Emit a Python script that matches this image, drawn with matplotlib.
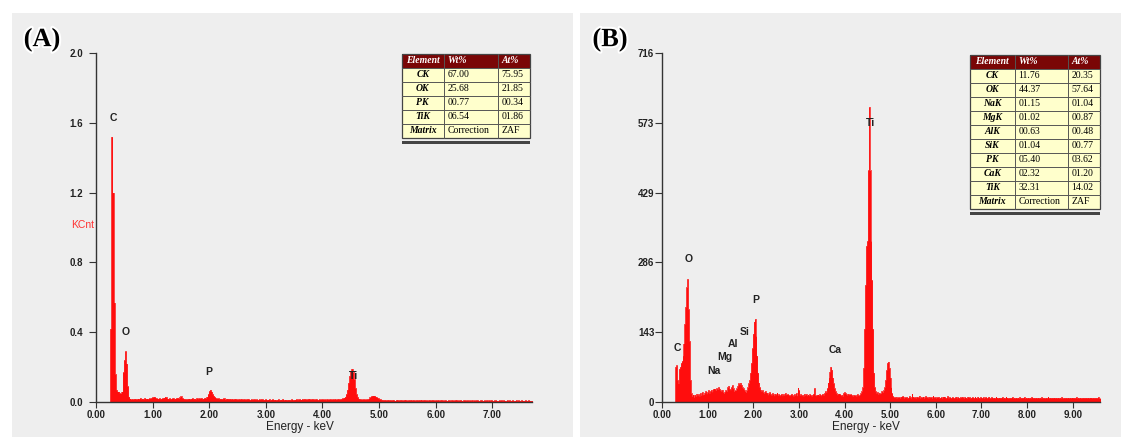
import numpy as np
import matplotlib
matplotlib.use("Agg")
import matplotlib.pyplot as plt
from matplotlib.patches import Rectangle
import matplotlib.patheffects as pe

# ---- spectrum data (one value per 0.02 keV channel, rows of 10 channels) ----
CHANNEL_KEV = 0.02

kcnt_a = [
    [0, 0, 0, 0, 0, 0, 0, 0, 0, 0],
    [0, 0, 0, 0.42, 1.52, 1.20, 0.57, 0.16, 0.07, 0.06],
    [0.06, 0.05, 0.05, 0.06, 0.17, 0.24, 0.29, 0.22, 0.09, 0.03],
    [0.02, 0.015, 0.018, 0.015, 0.02, 0.017, 0.016, 0.02, 0.018, 0.022],
    [0.018, 0.02, 0.017, 0.022, 0.019, 0.02, 0.018, 0.021, 0.02, 0.024],
    [0.026, 0.03, 0.028, 0.022, 0.02, 0.019, 0.021, 0.018, 0.02, 0.022],
    [0.025, 0.03, 0.027, 0.02, 0.019, 0.021, 0.018, 0.02, 0.022, 0.019],
    [0.02, 0.022, 0.025, 0.021, 0.028, 0.032, 0.024, 0.02, 0.018, 0.017],
    [0.016, 0.018, 0.02, 0.017, 0.019, 0.021, 0.018, 0.02, 0.017, 0.022],
    [0.019, 0.021, 0.02, 0.023, 0.018, 0.02, 0.024, 0.022, 0.03, 0.045],
    [0.062, 0.07, 0.06, 0.045, 0.035, 0.028, 0.022, 0.02, 0.021, 0.018],
    [0.02, 0.017, 0.019, 0.021, 0.016, 0.018, 0.02, 0.017, 0.019, 0.016],
    [0.018, 0.015, 0.017, 0.019, 0.016, 0.014, 0.017, 0.015, 0.018, 0.016],
    [0.015, 0.017, 0.014, 0.016, 0.018, 0.015, 0.013, 0.016, 0.014, 0.015],
    [0.016, 0.014, 0.015, 0.013, 0.016, 0.014, 0.017, 0.015, 0.013, 0.014],
    [0.015, 0.013, 0.014, 0.016, 0.012, 0.014, 0.015, 0.013, 0.014, 0.012],
    [0.013, 0.015, 0.012, 0.014, 0.013, 0.016, 0.012, 0.014, 0.013, 0.012],
    [0.014, 0.012, 0.013, 0.015, 0.012, 0.013, 0.014, 0.016, 0.013, 0.015],
    [0.016, 0.014, 0.017, 0.015, 0.018, 0.016, 0.014, 0.017, 0.019, 0.016],
    [0.015, 0.018, 0.016, 0.014, 0.017, 0.015, 0.013, 0.016, 0.014, 0.015],
    [0.016, 0.014, 0.015, 0.013, 0.016, 0.014, 0.015, 0.017, 0.014, 0.016],
    [0.015, 0.017, 0.014, 0.016, 0.018, 0.015, 0.017, 0.019, 0.021, 0.025],
    [0.03, 0.045, 0.07, 0.11, 0.15, 0.18, 0.19, 0.17, 0.13, 0.08],
    [0.045, 0.028, 0.02, 0.017, 0.015, 0.014, 0.016, 0.015, 0.014, 0.016],
    [0.016, 0.02, 0.026, 0.032, 0.036, 0.037, 0.035, 0.031, 0.026, 0.022],
    [0.018, 0.015, 0.013, 0.012, 0.011, 0.012, 0.01, 0.011, 0.012, 0.01],
    [0.011, 0.009, 0.012, 0.01, 0.008, 0.011, 0.013, 0.009, 0.01, 0.012],
    [0.01, 0.009, 0.011, 0.013, 0.01, 0.008, 0.011, 0.01, 0.012, 0.009],
    [0.011, 0.01, 0.008, 0.012, 0.009, 0.011, 0.01, 0.013, 0.009, 0.01],
    [0.012, 0.009, 0.01, 0.008, 0.011, 0.01, 0.009, 0.012, 0.01, 0.008],
    [0.01, 0.009, 0.011, 0.008, 0.01, 0.012, 0.009, 0.008, 0.01, 0.009],
    [0.008, 0.01, 0.009, 0.007, 0.011, 0.009, 0.008, 0.01, 0.012, 0.009],
    [0.008, 0.009, 0.011, 0.008, 0.007, 0.01, 0.009, 0.008, 0.01, 0.007],
    [0.009, 0.008, 0.01, 0.007, 0.009, 0.008, 0.011, 0.009, 0.007, 0.008],
    [0.01, 0.008, 0.007, 0.009, 0.008, 0.01, 0.007, 0.009, 0.008, 0.011],
    [0.008, 0.007, 0.009, 0.01, 0.008, 0.007, 0.009, 0.008, 0.01, 0.007],
    [0.009, 0.008, 0.007, 0.01, 0.008, 0.009, 0.007, 0.008, 0.009, 0.007],
    [0.008, 0.01, 0.007, 0.009, 0.008, 0.007, 0.009, 0.008, 0.007, 0.009],
    [0.008, 0.007, 0.009, 0.008, 0.007, 0.008, 0.009, 0.007, 0.008, 0.007],
]

counts_b = [
    [0, 0, 0, 0, 0, 0, 0, 0, 0, 0],
    [0, 0, 0, 0, 0, 72, 75, 45, 38, 68],
    [72, 80, 84, 95, 120, 160, 195, 235, 252, 190],
    [125, 45, 18, 12, 14, 10, 15, 12, 17, 13],
    [16, 12, 18, 14, 20, 15, 13, 19, 22, 17],
    [20, 24, 18, 22, 25, 21, 26, 23, 27, 24],
    [28, 26, 30, 27, 24, 22, 25, 20, 18, 21],
    [24, 22, 30, 33, 27, 25, 30, 34, 28, 22],
    [20, 24, 28, 33, 38, 36, 40, 35, 30, 28],
    [25, 22, 20, 24, 30, 38, 45, 60, 80, 110],
    [140, 165, 170, 135, 95, 60, 40, 30, 25, 22],
    [24, 20, 18, 22, 17, 19, 15, 18, 20, 16],
    [14, 18, 16, 13, 17, 15, 19, 14, 16, 13],
    [15, 17, 13, 16, 14, 18, 15, 12, 16, 14],
    [13, 15, 17, 14, 12, 16, 14, 18, 13, 29],
    [24, 14, 16, 13, 15, 12, 17, 14, 16, 13],
    [15, 13, 16, 14, 12, 15, 17, 28, 14, 13],
    [15, 12, 14, 16, 13, 15, 17, 14, 18, 22],
    [20, 28, 40, 50, 62, 72, 66, 50, 38, 28],
    [22, 18, 15, 17, 14, 16, 13, 15, 12, 18],
    [20, 18, 16, 14, 17, 15, 13, 16, 14, 12],
    [15, 13, 14, 12, 16, 14, 13, 15, 18, 22],
    [30, 70, 150, 240, 320, 330, 475, 605, 475, 330],
    [250, 150, 60, 30, 22, 18, 20, 16, 19, 17],
    [18, 22, 20, 24, 30, 45, 65, 80, 83, 70],
    [50, 30, 18, 12, 10, 9, 11, 8, 10, 9],
    [10, 8, 11, 9, 12, 8, 10, 9, 11, 8],
    [9, 12, 10, 8, 16, 11, 9, 10, 8, 11],
    [10, 9, 13, 8, 10, 9, 11, 8, 10, 12],
    [9, 10, 8, 11, 9, 10, 8, 12, 9, 10],
    [8, 10, 9, 11, 8, 9, 10, 8, 11, 9],
    [10, 8, 9, 12, 8, 10, 9, 8, 10, 9],
    [8, 9, 11, 8, 10, 9, 8, 10, 9, 11],
    [9, 8, 10, 9, 8, 11, 9, 10, 8, 9],
    [10, 9, 8, 10, 9, 8, 11, 9, 8, 10],
    [9, 8, 10, 8, 9, 10, 8, 9, 11, 8],
    [8, 10, 9, 8, 9, 8, 10, 9, 8, 9],
    [9, 8, 9, 10, 8, 9, 8, 10, 9, 8],
    [8, 9, 8, 9, 10, 8, 9, 8, 9, 8],
    [9, 8, 10, 8, 9, 8, 9, 10, 8, 9],
    [8, 9, 8, 9, 8, 10, 9, 8, 9, 8],
    [9, 8, 9, 8, 9, 8, 10, 8, 9, 8],
    [8, 9, 8, 10, 8, 9, 8, 9, 8, 9],
    [9, 8, 9, 8, 9, 8, 9, 8, 10, 8],
    [8, 9, 8, 9, 8, 9, 8, 9, 8, 9],
    [9, 8, 9, 8, 10, 8, 9, 8, 9, 8],
    [8, 9, 8, 9, 8, 9, 8, 9, 8, 9],
    [9, 8, 9, 8, 9, 8, 9, 8, 10, 8],
    [8, 9, 8, 9, 8, 9, 8, 9, 8, 9],
]

# peak labels: (text, energy keV, height)
labels_a = [("C", 0.30, 1.60), ("O", 0.53, 0.37), ("P", 2.00, 0.145), ("Ti", 4.54, 0.12)]
labels_b = [("C", 0.33, 100), ("O", 0.58, 283), ("Na", 1.14, 54), ("Mg", 1.38, 83),
            ("Al", 1.56, 108), ("Si", 1.82, 134), ("P", 2.05, 199), ("Ca", 3.79, 96),
            ("Ti", 4.57, 562)]

xticks_a = [0, 1, 2, 3, 4, 5, 6, 7]
xticks_b = [0, 1, 2, 3, 4, 5, 6, 7, 8, 9]
yticks_a = [0.0, 0.4, 0.8, 1.2, 1.6, 2.0]
yticks_b = [0, 143.2, 286.4, 429.6, 572.8, 716]
ytick_labels_b = ["0", "143", "286", "429", "573", "716"]

# quantification tables
elements_a = ["CK", "OK", "PK", "TiK"]
wt_a = ["67.00", "25.68", "00.77", "06.54"]
at_a = ["75.95", "21.85", "00.34", "01.86"]
elements_b = ["CK", "OK", "NaK", "MgK", "AlK", "SiK", "PK", "CaK", "TiK"]
wt_b = ["11.76", "44.37", "01.15", "01.02", "00.63", "01.04", "05.40", "02.32", "32.31"]
at_b = ["20.35", "57.64", "01.04", "00.87", "00.48", "00.77", "03.62", "01.20", "14.02"]

W, H = 1127, 437
RED = "#ff0d0d"
SANS = "Liberation Sans"
SERIF = "Liberation Serif"

fig = plt.figure(figsize=(W / 100, H / 100), dpi=100)
fig.patch.set_facecolor("white")

# pixel-space overlay axes (background and foreground)
bg = fig.add_axes([0, 0, 1, 1], zorder=0)
bg.set_xlim(0, W)
bg.set_ylim(H, 0)
bg.axis("off")
fg = fig.add_axes([0, 0, 1, 1], zorder=10)
fg.set_xlim(0, W)
fg.set_ylim(H, 0)
fg.axis("off")
fg.patch.set_alpha(0)

bg.add_patch(Rectangle((11.5, 12.5), 561, 430, color="#eeeeee", lw=0))
bg.add_patch(Rectangle((579.5, 12.5), 541, 430, color="#eeeeee", lw=0))


def px_axes(left, right, top, bottom):
    return fig.add_axes([left / W, (H - bottom) / H, (right - left) / W, (bottom - top) / H], zorder=2)


def draw_spectrum(ax, rows, xmax, ymax, xticks, yticks, ylabels, labels):
    counts = np.array(rows, dtype=float).ravel()
    energy = np.arange(len(counts)) * CHANNEL_KEV
    ax.fill_between(energy, counts, step="mid", color=RED, lw=0)
    ax.step(energy, counts, where="mid", color=RED, lw=0.5)
    ax.set_xlim(0, xmax)
    ax.set_ylim(0, ymax)
    ax.patch.set_alpha(0)
    for s in ["top", "right"]:
        ax.spines[s].set_visible(False)
    for s in ["left", "bottom"]:
        ax.spines[s].set_color("#333333")
        ax.spines[s].set_linewidth(1.0)
        ax.spines[s].set_zorder(3)
    ax.set_xticks(xticks)
    ax.set_xticklabels(["%.2f" % t for t in xticks], fontfamily=SANS, fontweight="bold",
                       fontsize=7, color="#222222")
    ax.set_yticks(yticks)
    ax.set_yticklabels(ylabels, fontfamily=SANS, fontweight="bold", fontsize=7, color="#222222")
    ax.tick_params(axis="x", direction="out", length=4, width=0.8, pad=2, color="#333333")
    ax.set_xlabel("Energy - keV", fontfamily=SANS, fontsize=8.5, color="#222222")
    for txt, e, h in labels:
        ax.text(e, h, txt, ha="center", va="bottom", fontfamily=SANS, fontweight="bold",
                fontsize=7.5, color="#222222")


ax_a = px_axes(96, 532, 53, 402)
draw_spectrum(ax_a, kcnt_a, 7.7, 2.0, xticks_a, yticks_a, ["%.1f" % t for t in yticks_a], labels_a)
ax_a.tick_params(axis="y", direction="out", length=5, width=0.8, pad=4, color="#333333")
ax_a.xaxis.set_label_coords(0.468, -0.055)

ax_b = px_axes(662, 1100, 53, 402)
draw_spectrum(ax_b, counts_b, 9.6, 716, xticks_b, yticks_b, ytick_labels_b, labels_b)
ax_b.tick_params(axis="y", direction="out", length=5, width=0.8, pad=0.5, color="#333333")
ax_b.xaxis.set_label_coords(0.466, -0.055)

fig.text(82.5 / W, 1 - 225 / H, "KCnt", ha="center", va="center", fontfamily=SANS,
         fontsize=7.5, color="#ff3030")

# panel letters
for txt, x in [("(A)", 42), ("(B)", 610)]:
    fg.text(x, 40, txt, ha="center", va="center", fontfamily=SERIF, fontweight="bold",
            fontsize=19, color="black",
            path_effects=[pe.withStroke(linewidth=3, foreground="white")])


def draw_table(x_edges, y0, elements, wt, at, row_h=14):
    rows = [("Element", "Wt%", "At%")] + list(zip(elements, wt, at)) + [("Matrix", "Correction", "ZAF")]
    n = len(rows)
    x0, x3 = x_edges[0], x_edges[-1]
    y1 = y0 + n * row_h
    fg.add_patch(Rectangle((x0, y0), x3 - x0, y1 - y0, facecolor="#ffffcc", edgecolor="none"))
    fg.add_patch(Rectangle((x0, y0), x3 - x0, row_h, facecolor="#7a0606", edgecolor="none"))
    for i in range(1, n):
        fg.plot([x0, x3], [y0 + i * row_h] * 2, color="#555555", lw=0.7)
    for xe in x_edges[1:-1]:
        fg.plot([xe, xe], [y0, y1], color="#555555", lw=0.7)
    fg.add_patch(Rectangle((x0, y0), x3 - x0, y1 - y0, facecolor="none", edgecolor="#444444", lw=0.9))
    fg.add_patch(Rectangle((x0, y1 + 3.5), x3 - x0, 2.5, facecolor="#444444", edgecolor="none"))
    for i, (el, w, a) in enumerate(rows):
        yc = y0 + (i + 0.5) * row_h
        head = i == 0
        col = "white" if head else "black"
        fg.text((x_edges[0] + x_edges[1]) / 2, yc, el, ha="center", va="center", fontfamily=SERIF,
                fontweight="bold", fontstyle="italic", fontsize=7, color=col)
        for j, val in enumerate([w, a]):
            fg.text(x_edges[j + 1] + 4, yc, val, ha="left", va="center", fontfamily=SERIF,
                    fontweight="bold" if head else "normal", fontstyle="italic" if head else "normal",
                    fontsize=7, color=col)


draw_table([402, 443.5, 497.5, 530], 53.5, elements_a, wt_a, at_a)
draw_table([970, 1014.5, 1067.5, 1100], 54.5, elements_b, wt_b, at_b)

fig.savefig("out.png", dpi=100)
